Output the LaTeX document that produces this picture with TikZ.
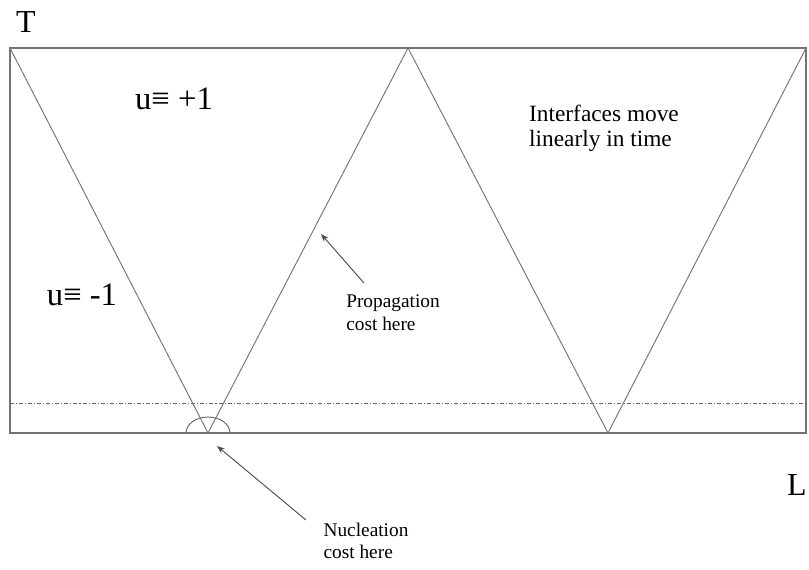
\documentclass[tikz,border=0pt]{standalone}
\usepackage{fontspec}
\setmainfont{Liberation Serif}
\usepackage{tikz}
\usetikzlibrary{arrows.meta, calc}

\tikzset{
  frameline/.style={draw=black!55, line width=0.9pt},
  wedgeline/.style={draw=black!55, line width=0.7pt},
  levelline/.style={draw=black!60, line width=0.5pt, dash pattern=on 3pt off 1.5pt on 0.8pt off 1.5pt},
  pointer/.style={draw=black!70, line width=0.7pt, -{Stealth[length=6pt,width=4.5pt]}},
  axislabel/.style={font=\fontsize{24}{26}\selectfont},
  phaselabel/.style={font=\fontsize{24.5}{26}\selectfont},
  notelabel/.style={font=\fontsize{17.5}{19}\selectfont, align=left},
  smalllabel/.style={font=\fontsize{14.5}{17}\selectfont, align=left}
}

\begin{document}
\begin{tikzpicture}[x=0.75pt, y=-0.75pt]
    \useasboundingbox (0,0) rectangle (809,569);

    % corners of the space-time box
    \coordinate (tl) at (10,48);
    \coordinate (tr) at (806,48);
    \coordinate (br) at (806,433);
    \coordinate (bl) at (10,433);
    \coordinate (nuc1) at (208,433);
    \coordinate (apex) at (408,48);
    \coordinate (nuc2) at (608,433);
    \coordinate (dashL) at (10,403);
    \coordinate (dashR) at (806,403);

    \draw[frameline] (tl) -- (tr) -- (br) -- (bl) -- cycle;
    \draw[levelline] (dashL) -- (dashR);

    % interfaces
    \draw[wedgeline] (tl) -- (nuc1) -- (apex) -- (nuc2) -- (tr);

    % nucleation angle
    \draw[wedgeline, black!60] ($(nuc1)+(-22,0)$) arc[start angle=180, end angle=0, x radius=22, y radius=-16];

    \node[axislabel] (tlab) at (26,22) {T};
    \node[axislabel] (llab) at (797,485) {L};
    \node[phaselabel] (plus) at (174,99) {u≡ +1};
    \node[phaselabel] (minus) at (82,295) {u≡ -1};
    \node[notelabel] (interf) at (604,128) {Interfaces move\\linearly in time};
    \node[smalllabel] (prop) at (393,313) {Propagation\\cost here};
    \node[smalllabel] (nucl) at (366,541) {Nucleation\\cost here};

    \coordinate (propTail) at (364,283);
    \coordinate (propTip) at (321,234);
    \coordinate (nuclTail) at (306,520);
    \coordinate (nuclTip) at (217,446);
    \draw[pointer] (propTail) -- (propTip);
    \draw[pointer] (nuclTail) -- (nuclTip);
\end{tikzpicture}
\end{document}
